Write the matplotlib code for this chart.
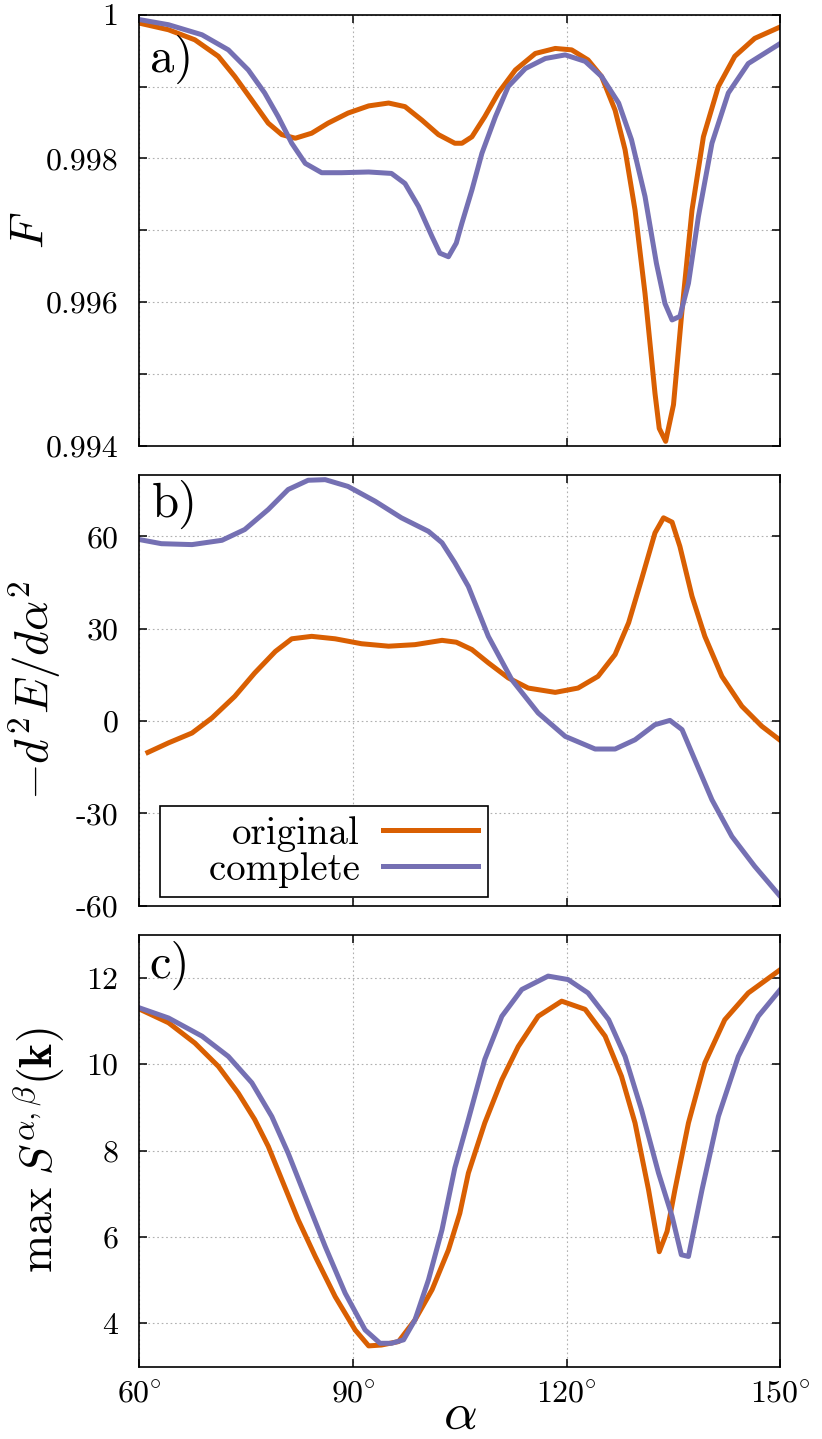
import matplotlib
matplotlib.use("Agg")
from matplotlib import pyplot as plt
import numpy as np

plt.rcParams['font.family'] = ['cmr10', 'DejaVu Serif']
plt.rcParams['mathtext.fontset'] = 'cm'
plt.rcParams['axes.unicode_minus'] = False

c_orig = '#d95f02'
c_comp = '#7570b3'

# panel a) fidelity F
a_orig_x = [60.1, 64.1, 67.8, 71.1, 73.4, 75.8, 78.1, 80.0, 81.9, 84.2, 86.5, 89.3, 92.2,
            95.0, 97.3, 99.7, 102.0, 104.3, 105.3, 106.7, 108.5, 110.4, 112.8, 115.6,
            118.4, 120.7, 123.0, 124.9, 126.8, 128.2, 129.6, 131.0, 132.4, 133.0, 133.9,
            135.0, 136.2, 137.6, 139.2, 141.3, 143.6, 146.4, 150.0]
a_orig_y = [0.99988, 0.99979, 0.99965, 0.99942, 0.99914, 0.99881, 0.99849, 0.99833, 0.99828,
            0.99835, 0.99849, 0.99863, 0.99873, 0.99877, 0.99872, 0.99853, 0.99833, 0.99821,
            0.99821, 0.99830, 0.99858, 0.99891, 0.99923, 0.99946, 0.99953, 0.99951, 0.99937,
            0.99914, 0.99867, 0.99812, 0.99728, 0.99612, 0.99473, 0.99424, 0.99406, 0.99457,
            0.99589, 0.99728, 0.99830, 0.99900, 0.99942, 0.99967, 0.99983]
a_comp_x = [60.1, 64.1, 68.8, 72.5, 75.3, 77.6, 79.5, 81.4, 83.3, 85.6, 88.4, 92.2, 95.4,
            97.3, 99.2, 101.1, 102.2, 103.4, 104.5, 105.3, 106.7, 108.1, 110.0, 111.8,
            114.2, 117.0, 119.8, 122.6, 124.9, 127.3, 129.1, 131.0, 132.6, 133.8, 134.8,
            135.9, 137.1, 138.5, 140.4, 142.7, 145.5, 150.0]
a_comp_y = [0.99993, 0.99986, 0.99972, 0.99951, 0.99923, 0.99891, 0.99858, 0.99821, 0.99793,
            0.99780, 0.99780, 0.99781, 0.99779, 0.99765, 0.99733, 0.99691, 0.99668, 0.99663,
            0.99682, 0.99710, 0.99756, 0.99807, 0.99858, 0.99900, 0.99925, 0.99939, 0.99944,
            0.99935, 0.99914, 0.99877, 0.99826, 0.99747, 0.99654, 0.99598, 0.99575, 0.99580,
            0.99626, 0.99719, 0.99821, 0.99891, 0.99932, 0.99960]

# panel b) -d2E/dalpha2
b_orig_x = [61.2, 64.1, 67.4, 70.2, 73.4, 76.2, 79.1, 81.4, 84.2, 87.5, 91.2, 95.0, 98.7,
            102.5, 104.5, 106.7, 109.0, 111.8, 114.6, 118.4, 121.6, 124.4, 126.8, 128.7,
            130.5, 132.4, 133.6, 134.8, 135.9, 137.6, 139.4, 141.8, 144.6, 147.4, 150.0]
b_orig_y = [-10.2, -7.1, -3.9, 1.0, 8.0, 15.6, 22.6, 26.7, 27.5, 26.7, 25.1, 24.3, 24.8,
            26.2, 25.6, 23.2, 18.9, 14.0, 10.7, 9.3, 10.7, 14.5, 21.6, 31.9, 45.9, 61.1,
            66.0, 64.6, 56.7, 40.5, 27.5, 14.5, 4.8, -1.7, -6.3]
b_comp_x = [60.1, 63.1, 67.4, 71.6, 74.8, 78.1, 80.9, 83.7, 86.1, 89.3, 93.1, 96.8, 100.6,
            102.5, 104.3, 106.2, 109.0, 112.3, 116.0, 119.8, 124.0, 126.8, 129.6, 132.4,
            134.5, 136.2, 138.0, 140.4, 143.2, 146.4, 150.0]
b_comp_y = [58.9, 57.6, 57.3, 58.7, 62.2, 68.7, 75.2, 78.2, 78.4, 76.2, 71.4, 66.0, 61.6,
            57.9, 51.4, 43.7, 27.5, 13.4, 2.6, -5.0, -9.1, -9.1, -6.1, -1.2, 0.2, -2.8,
            -12.6, -25.6, -37.5, -47.2, -57.0]

# panel c) max S(k)
c_orig_x = [60.1, 64.1, 67.8, 71.1, 73.9, 76.2, 78.1, 80.0, 82.3, 84.7, 87.5, 90.3, 92.2,
            94.0, 96.4, 98.7, 101.1, 103.4, 105.0, 106.2, 108.5, 110.9, 113.2, 116.0,
            119.3, 122.6, 125.4, 127.7, 129.6, 131.5, 133.0, 134.1, 135.2, 137.1, 139.4,
            142.2, 145.5, 150.0]
c_orig_y = [11.27, 10.96, 10.49, 9.95, 9.33, 8.72, 8.10, 7.33, 6.40, 5.55, 4.62, 3.85, 3.48,
            3.50, 3.58, 4.08, 4.78, 5.70, 6.55, 7.48, 8.64, 9.64, 10.41, 11.11, 11.46, 11.27,
            10.65, 9.72, 8.64, 7.09, 5.66, 6.13, 7.09, 8.64, 10.03, 11.03, 11.65, 12.19]
c_comp_x = [60.1, 64.1, 68.8, 72.5, 75.8, 78.6, 80.9, 83.3, 86.1, 88.9, 91.7, 93.8, 95.4,
            97.1, 98.7, 100.6, 102.5, 104.3, 106.2, 108.5, 110.9, 113.7, 117.4, 120.2,
            123.0, 125.9, 128.2, 130.5, 132.9, 134.8, 136.1, 137.1, 139.0, 141.3, 144.1,
            146.9, 150.0]
c_comp_y = [11.30, 11.07, 10.65, 10.18, 9.57, 8.79, 7.94, 6.94, 5.78, 4.70, 3.85, 3.54, 3.54,
            3.62, 4.08, 5.01, 6.17, 7.60, 8.72, 10.11, 11.11, 11.73, 12.04, 11.96, 11.65,
            11.03, 10.18, 8.95, 7.48, 6.48, 5.59, 5.55, 7.09, 8.79, 10.18, 11.11, 11.73]

x_ticks = [60, 90, 120, 150]
x_labels = [r'$60\!^\circ$', r'$90\!^\circ$', r'$120\!^\circ$', r'$150\!^\circ$']

fig = plt.figure(figsize=(8.22, 14.39), dpi=100)
left, width = 0.1695, 0.7798
ax_a = fig.add_axes([left, 0.6903, width, 0.2995])
ax_b = fig.add_axes([left, 0.3706, width, 0.2995])
ax_c = fig.add_axes([left, 0.0503, width, 0.3002])

lw = 3.6
for ax in (ax_a, ax_b, ax_c):
    ax.set_xlim(60, 150)
    ax.set_xticks(x_ticks)
    ax.grid(True, color='#b0b0b0', linestyle=(0, (1.5, 2.5)), linewidth=0.8)
    ax.tick_params(direction='in', top=True, right=True, length=6, width=1.1,
                   labelsize=23)
    ax.tick_params(axis='y', pad=15)
    ax.tick_params(axis='x', pad=10)
    for s in ax.spines.values():
        s.set_linewidth(1.2)

ax_a.plot(a_orig_x, a_orig_y, color=c_orig, lw=lw)
ax_a.plot(a_comp_x, a_comp_y, color=c_comp, lw=lw)
ax_a.set_ylim(0.994, 1.0)
ax_a.set_yticks([0.994, 0.995, 0.996, 0.997, 0.998, 0.999, 1.0])
ax_a.set_yticklabels(['0.994', '', '0.996', '', '0.998', '', '1'])
ax_a.set_xticklabels([])
ax_a.set_ylabel(r'$F$', fontsize=34)
ax_a.yaxis.set_label_coords(-0.137, 0.5)
ax_a.text(0.017, 0.8675, 'a)', transform=ax_a.transAxes, fontsize=35, va='baseline')

ax_b.plot(b_orig_x, b_orig_y, color=c_orig, lw=lw, label='original')
ax_b.plot(b_comp_x, b_comp_y, color=c_comp, lw=lw, label='   complete')
ax_b.set_ylim(-60, 80)
ax_b.set_yticks([-60, -30, 0, 30, 60])
ax_b.set_yticklabels(['-60', '-30', '0', '30', '60'])
ax_b.set_xticklabels([])
ax_b.set_ylabel(r'$-d^2E/d\alpha^2$', fontsize=34)
ax_b.yaxis.set_label_coords(-0.119, 0.5)
ax_b.text(0.019, 0.9025, 'b)', transform=ax_b.transAxes, fontsize=35, va='baseline')
leg = ax_b.legend(loc='lower left', bbox_to_anchor=(0.032, 0.0195), borderaxespad=0,
                  markerfirst=False, fontsize=28, handlelength=2.45, handletextpad=0.6,
                  labelspacing=0.0, borderpad=0.25, fancybox=False, framealpha=1)
leg.get_frame().set_edgecolor('black')
leg.get_frame().set_linewidth(1.2)

ax_c.plot(c_orig_x, c_orig_y, color=c_orig, lw=lw)
ax_c.plot(c_comp_x, c_comp_y, color=c_comp, lw=lw)
ax_c.set_ylim(3, 13)
ax_c.set_yticks([4, 6, 8, 10, 12])
ax_c.set_yticklabels(['4', '6', '8', '10', '12'])
ax_c.set_xticklabels(x_labels)
ax_c.set_ylabel(r'$\mathrm{max}\ S^{\alpha,\beta}(\mathbf{k})$', fontsize=33)
ax_c.yaxis.set_label_coords(-0.113, 0.5)
ax_c.set_xlabel(r'$\alpha$', fontsize=38)
ax_c.xaxis.set_label_coords(0.5, -0.058)
ax_c.text(0.015, 0.899, 'c)', transform=ax_c.transAxes, fontsize=35, va='baseline')

fig.savefig('out.png', dpi=100)
